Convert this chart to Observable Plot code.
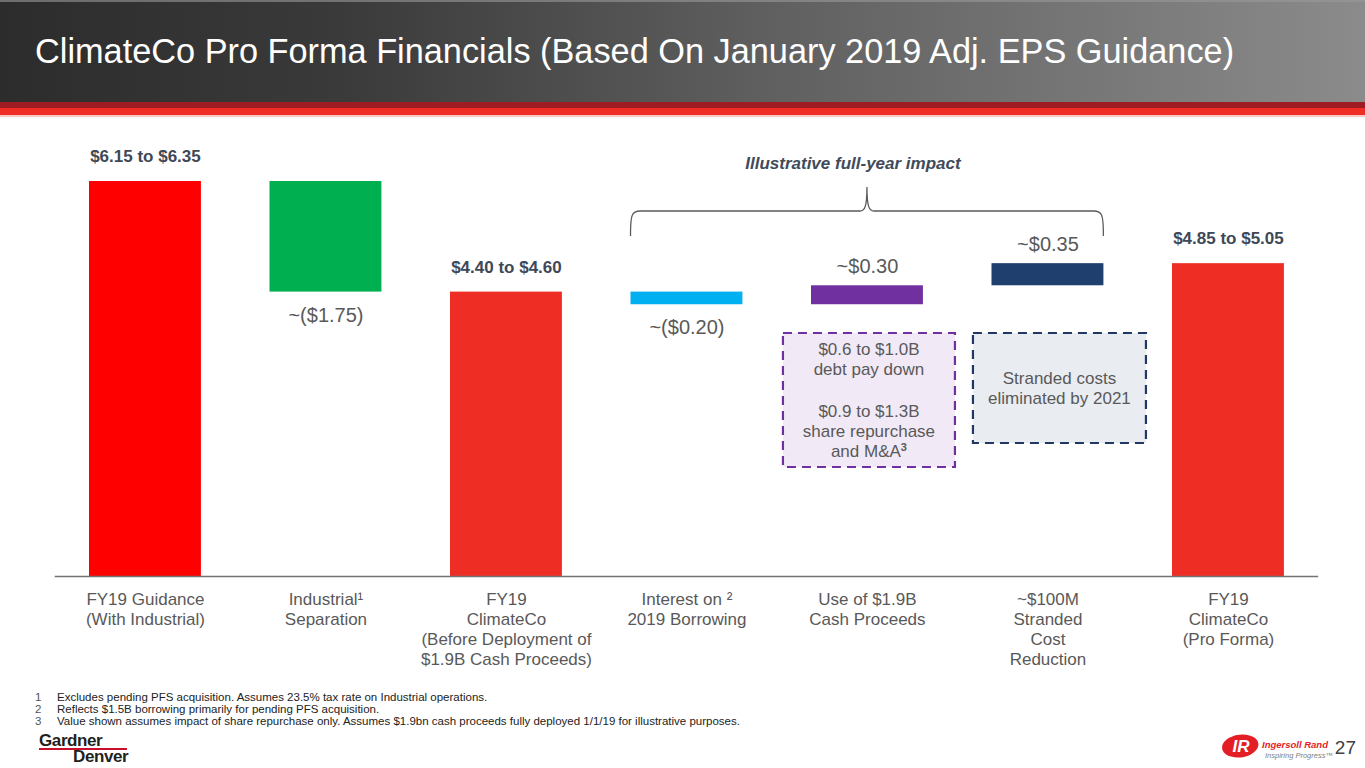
<!DOCTYPE html>
<html>
<head>
<meta charset="utf-8">
<script src="https://cdn.jsdelivr.net/npm/d3@7"></script>
<script src="https://cdn.jsdelivr.net/npm/@observablehq/plot@0.6"></script>
<style>
  html, body { margin: 0; padding: 0; background: #fff; }
  body { width: 1365px; height: 768px; overflow: hidden; position: relative; font-family: "Liberation Sans", Arial, sans-serif; }
  #hdr { position: absolute; left: 0; top: 0; width: 1365px; height: 102px;
         background: linear-gradient(to right, #2c2c2c 0%, #3a3a3a 25%, #5e5e5e 55%, #8b8b8b 100%); }
  #hdrTop { position: absolute; left: 0; top: 0; width: 1365px; height: 2px; background: #9a9a9a; opacity: .6; }
  #stripe1 { position: absolute; left: 0; top: 102px; width: 1365px; height: 6px; background: #a01c24; }
  #stripe2 { position: absolute; left: 0; top: 108px; width: 1365px; height: 7px; background: #ee2d24; }
  #stripe3 { position: absolute; left: 0; top: 115px; width: 1365px; height: 2px; background: #f7c9c6; }
  #title { position: absolute; left: 35px; top: 34px; color: #fff; font-size: 34.3px; line-height: 1; white-space: nowrap; }
  #chart { position: absolute; left: 0; top: 120px; }
  #notes { position: absolute; left: 0; top: 691px; font-size: 11.5px; line-height: 12px; color: #222; }
  #notes div { position: relative; white-space: nowrap; }
  #notes span.n { position: absolute; left: 35px; color: #555; }
  #notes span.t { position: absolute; left: 57px; }
  #gd1 { position: absolute; left: 39px; top: 732px; font-size: 17px; font-weight: bold; color: #231f20; line-height: 1; letter-spacing: -0.4px; }
  #gdline { position: absolute; left: 39px; top: 748px; width: 88px; height: 2px; background: #c8102e; }
  #gd2 { position: absolute; left: 73px; top: 748px; font-size: 17px; font-weight: bold; color: #231f20; line-height: 1; letter-spacing: -0.4px; }
  #ir { position: absolute; left: 1221px; top: 733px; }
  #irname { position: absolute; left: 1262px; top: 740px; font-size: 9.5px; font-weight: bold; font-style: italic; color: #e31e24; line-height: 1; white-space: nowrap; }
  #irtag { position: absolute; left: 1265px; top: 752px; font-size: 7.5px; font-style: italic; color: #808080; line-height: 1; white-space: nowrap; }
  #page { position: absolute; right: 9px; top: 738px; font-size: 19px; color: #404040; line-height: 1; }
</style>
</head>
<body>
<div id="hdr"></div>
<div id="hdrTop"></div>
<div id="stripe1"></div>
<div id="stripe2"></div>
<div id="stripe3"></div>
<div id="title">ClimateCo Pro Forma Financials (Based On January 2019 Adj. EPS Guidance)</div>
<div id="chart"></div>
<div id="notes">
  <div style="height:12px"><span class="n">1</span><span class="t">Excludes pending PFS acquisition. Assumes 23.5% tax rate on Industrial operations.</span></div>
  <div style="height:12px"><span class="n">2</span><span class="t">Reflects $1.5B borrowing primarily for pending PFS acquisition.</span></div>
  <div style="height:12px"><span class="n">3</span><span class="t">Value shown assumes impact of share repurchase only. Assumes $1.9bn cash proceeds fully deployed 1/1/19 for illustrative purposes.</span></div>
</div>
<div id="gd1">Gardner</div>
<div id="gdline"></div>
<div id="gd2">Denver</div>
<svg id="ir" width="40" height="26" viewBox="0 0 40 26">
  <ellipse cx="19" cy="13" rx="18" ry="11.5" fill="#e31e24" transform="skewX(-12) translate(3,0)"/>
  <text x="20" y="19" text-anchor="middle" font-family="Liberation Sans, Arial" font-size="17" font-weight="bold" font-style="italic" fill="#fff">IR</text>
</svg>
<div id="irname">Ingersoll Rand</div>
<div id="irtag">Inspiring Progress™</div>
<div id="page">27</div>

<script>
// ---- data ----
const categories = [
  "FY19 Guidance",
  "Industrial Separation",
  "FY19 ClimateCo",
  "Interest on 2019 Borrowing",
  "Use of $1.9B Cash Proceeds",
  "~$100M Stranded Cost Reduction",
  "FY19 ClimateCo (Pro Forma)"
];
const tickLabels = [
  "FY19 Guidance\n(With Industrial)",
  "Industrial¹\nSeparation",
  "FY19\nClimateCo\n(Before Deployment of\n$1.9B Cash Proceeds)",
  "Interest on ²\n2019 Borrowing",
  "Use of $1.9B\nCash Proceeds",
  "~$100M\nStranded\nCost\nReduction",
  "FY19\nClimateCo\n(Pro Forma)"
];
const barStart = [0, 6.25, 0, 4.50, 4.30, 4.60, 0];
const barEnd   = [6.25, 4.50, 4.50, 4.30, 4.60, 4.95, 4.95];
const barColors = ["#ff0000", "#00b050", "#ee2d24", "#00b0f0", "#7030a0", "#1f3f6e", "#ee2d24"];
const valueLabels = ["$6.15 to $6.35", "~($1.75)", "$4.40 to $4.60", "~($0.20)", "~$0.30", "~$0.35", "$4.85 to $5.05"];
const isTotal = [true, false, true, false, false, false, true];
const bracketTitle = "Illustrative full-year impact";
const purpleNote = ["$0.6 to $1.0B", "debt pay down", "", "$0.9 to $1.3B", "share repurchase", "and M&A³"];
const navyNote = ["Stranded costs", "eliminated by 2021"];

const rows = categories.map((c, i) => ({
  cat: c, y1: barStart[i], y2: barEnd[i], color: barColors[i], label: valueLabels[i],
  total: isTotal[i], down: barEnd[i] < barStart[i], top: Math.max(barStart[i], barEnd[i]), bottom: Math.min(barStart[i], barEnd[i])
}));

const labelBold = "#3f4856", labelGray = "#595959";

const chart = Plot.plot({
  width: 1365,
  height: 550,
  marginLeft: 54.7,
  marginRight: 46.8,
  marginTop: 13.6,
  marginBottom: 94,
  style: { fontFamily: "Liberation Sans, Arial, sans-serif", fontSize: "17px", color: labelGray, background: "transparent", overflow: "visible" },
  x: { domain: categories, paddingInner: 0.38, paddingOuter: 0.19, round: false },
  y: { domain: [0, 7], axis: null },
  color: { type: "identity" },
  marks: [
    Plot.barY(rows, { x: "cat", y1: "y1", y2: "y2", fill: "color" }),
    Plot.ruleY([0], { stroke: "#737373", strokeWidth: 1.6 }),
    Plot.axisX({
      tickSize: 0, tickPadding: 14, fontSize: 17, lineHeight: 20 / 17, label: null,
      tickFormat: d => tickLabels[categories.indexOf(d)]
    }),
    Plot.text(rows.filter(d => d.total), {
      x: "cat", y: "top", text: "label", dy: -25, fontWeight: "bold", fontSize: 17, fill: labelBold, lineAnchor: "middle"
    }),
    Plot.text(rows.filter(d => !d.total && !d.down), {
      x: "cat", y: "top", text: "label", dy: -19, fontSize: 20, fill: labelGray, lineAnchor: "middle"
    }),
    Plot.text(rows.filter(d => d.down), {
      x: "cat", y: "bottom", text: "label", dy: 23, fontSize: 20, fill: labelGray, lineAnchor: "middle"
    })
  ]
});
document.getElementById("chart").appendChild(chart);

// ---- annotations positioned from the chart's scales ----
const xs = chart.scale("x");
const bw = xs.bandwidth;
const bandStart = c => xs.apply(c);
const bandMid = c => xs.apply(c) + bw / 2;
const svg = d3.select(chart);
const ann = svg.append("g").attr("font-family", "Liberation Sans, Arial, sans-serif");

// bracket
const bx0 = bandStart(categories[3]);
const bx1 = bandStart(categories[5]) + bw;
const bxt = bandMid(categories[4]);
const yLine = 91, yEnd = 116, yTip = 67;
ann.append("path")
  .attr("d", `M${bx0},${yEnd} C${bx0},${yLine + 4} ${bx0 + 1},${yLine} ${bx0 + 10},${yLine} L${bxt - 7},${yLine} C${bxt - 2},${yLine} ${bxt},${yLine - 5} ${bxt},${yTip} C${bxt},${yLine - 5} ${bxt + 2},${yLine} ${bxt + 7},${yLine} L${bx1 - 10},${yLine} C${bx1 - 1},${yLine} ${bx1},${yLine + 4} ${bx1},${yEnd}`)
  .attr("fill", "none").attr("stroke", "#5a5a5a").attr("stroke-width", 1.3);
ann.append("text").attr("x", bxt - 14).attr("y", 43).attr("dy", "0.35em")
  .attr("text-anchor", "middle").attr("font-size", 17).attr("font-weight", "bold").attr("font-style", "italic")
  .attr("fill", "#404b5a").text(bracketTitle);

// purple note box
const pcx = bandMid(categories[4]) + 2;
const pTop = 213, pH = 134, pW = 172;
ann.append("rect").attr("x", pcx - pW / 2).attr("y", pTop).attr("width", pW).attr("height", pH)
  .attr("fill", "#f1eaf6").attr("stroke", "#7030a0").attr("stroke-width", 2.2).attr("stroke-dasharray", "9,6");
const pOffsets = [16, 36, null, 78, 98, 118];
purpleNote.forEach((t, i) => {
  if (!t) return;
  const tx = ann.append("text").attr("x", pcx).attr("y", pTop + pOffsets[i]).attr("dy", "0.35em")
    .attr("text-anchor", "middle").attr("font-size", 17).attr("fill", labelGray);
  if (t.endsWith("³")) {
    tx.text(t.slice(0, -1));
    tx.append("tspan").attr("font-size", 11).attr("font-weight", "bold").attr("dy", "-0.55em").text("3");
  } else tx.text(t);
});

// navy note box
const ncx = bandMid(categories[5]) + 12;
const nTop = 213, nH = 110, nW = 173;
ann.append("rect").attr("x", ncx - nW / 2).attr("y", nTop).attr("width", nW).attr("height", nH)
  .attr("fill", "#e9ecf1").attr("stroke", "#1f3864").attr("stroke-width", 2.2).attr("stroke-dasharray", "9,6");
navyNote.forEach((t, i) => {
  ann.append("text").attr("x", ncx).attr("y", nTop + 45 + i * 20).attr("dy", "0.35em")
    .attr("text-anchor", "middle").attr("font-size", 17).attr("fill", labelGray).text(t);
});
</script>
</body>
</html>
